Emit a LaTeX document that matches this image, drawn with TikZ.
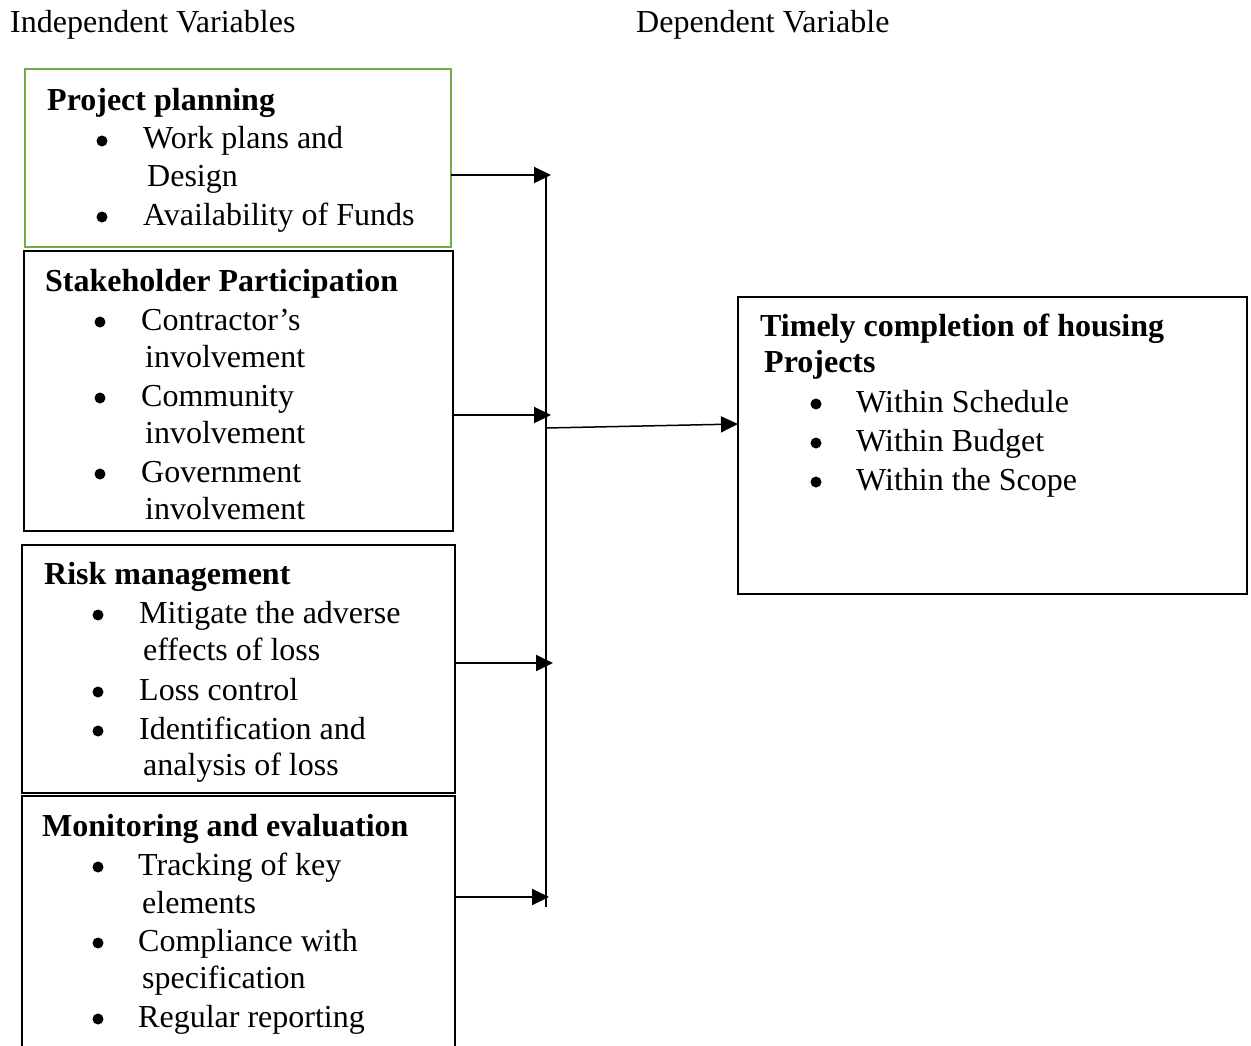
\documentclass[tikz,border=0pt]{standalone}
\usepackage{fontspec}
\setmainfont{Liberation Serif}
\usetikzlibrary{arrows.meta}
\definecolor{wordgreen}{RGB}{112,173,71}
\begin{document}
\begin{tikzpicture}[x=1pt,y=-1pt,
  txt/.style={anchor=base west, inner sep=0pt, font=\fontsize{32}{38}\selectfont},
  ttl/.style={anchor=base west, inner sep=0pt, font=\fontsize{32}{38}\selectfont\bfseries},
  dot/.style={circle, fill=black, draw=none, minimum size=11pt, inner sep=0pt},
  box/.style={draw=black, line width=1.3pt},
  arr/.style={line width=2pt, -{Triangle[length=17pt,width=16pt]}},
]
\useasboundingbox (0,0) rectangle (1251,1045);
% headers
\node[txt] (hind) at (10,32) {Independent Variables};
\node[txt] (hdep) at (636,32) {Dependent Variable};
% box 1
\draw[draw=wordgreen, line width=2.6pt] (25,69) rectangle (451,247);
\coordinate (b1e) at (451,175);
\node[ttl] (t1) at (47,110) {Project planning};
\node[dot] (d11) at (102,141) {};
\node[txt] (l11) at (143,148) {Work plans and};
\node[txt] (l12) at (147,186) {Design};
\node[dot] (d12) at (102,217) {};
\node[txt] (l13) at (143,225) {Availability of Funds};
% box 2
\draw[box] (24,251) rectangle (453,531);
\coordinate (b2e) at (453,415);
\node[ttl] (t2) at (45,291) {Stakeholder Participation};
\node[dot] (d21) at (100,322) {};
\node[txt] (l21) at (141,330) {Contractor’s};
\node[txt] (l22) at (145,367) {involvement};
\node[dot] (d22) at (100,398) {};
\node[txt] (l23) at (141,406) {Community};
\node[txt] (l24) at (145,443) {involvement};
\node[dot] (d23) at (100,474) {};
\node[txt] (l25) at (141,482) {Government};
\node[txt] (l26) at (145,519) {involvement};
% box 3
\draw[box] (22,545) rectangle (455,793);
\coordinate (b3e) at (455,663);
\node[ttl] (t3) at (44,584) {Risk management};
\node[dot] (d31) at (98,615) {};
\node[txt] (l31) at (139,623) {Mitigate the adverse};
\node[txt] (l32) at (143,660) {effects of loss};
\node[dot] (d32) at (98,692) {};
\node[txt] (l33) at (139,700) {Loss control};
\node[dot] (d33) at (98,731) {};
\node[txt] (l34) at (139,739) {Identification and};
\node[txt] (l35) at (143,775) {analysis of loss};
% box 4
\draw[box] (22,1070) -- (22,796) -- (455,796) -- (455,1070);
\coordinate (b4e) at (455,897);
\node[ttl] (t4) at (42,836) {Monitoring and evaluation};
\node[dot] (d41) at (98,867) {};
\node[txt] (l41) at (138,875) {Tracking of key};
\node[txt] (l42) at (142,913) {elements};
\node[dot] (d42) at (98,943) {};
\node[txt] (l43) at (138,951) {Compliance with};
\node[txt] (l44) at (142,988) {specification};
\node[dot] (d43) at (98,1019) {};
\node[txt] (l45) at (138,1027) {Regular reporting};
% dependent box
\draw[box] (738,297) rectangle (1247,594);
\coordinate (tin) at (738,424);
\node[ttl] (tt) at (760,336) {Timely completion of housing};
\node[ttl] (tt2) at (764,372) {Projects};
\node[dot] (dr1) at (816,404) {};
\node[txt] (r1) at (856,412) {Within Schedule};
\node[dot] (dr2) at (816,443) {};
\node[txt] (r2) at (856,451) {Within Budget};
\node[dot] (dr3) at (816,482) {};
\node[txt] (r3) at (856,490) {Within the Scope};
% bus
\coordinate (bt) at (546,177);
\coordinate (bb) at (546,907);
\coordinate (j1) at (551,175);
\coordinate (j2) at (551,415);
\coordinate (j3) at (553,663);
\coordinate (j4) at (549,897);
\coordinate (m) at (546,428);
\draw[line width=1.3pt] (bt) -- (bb);
\draw[arr] (b1e) -- (j1);
\draw[arr] (b2e) -- (j2);
\draw[arr] (b3e) -- (j3);
\draw[arr] (b4e) -- (j4);
\draw[arr, line width=1.5pt] (m) -- (tin);
\end{tikzpicture}
\end{document}
